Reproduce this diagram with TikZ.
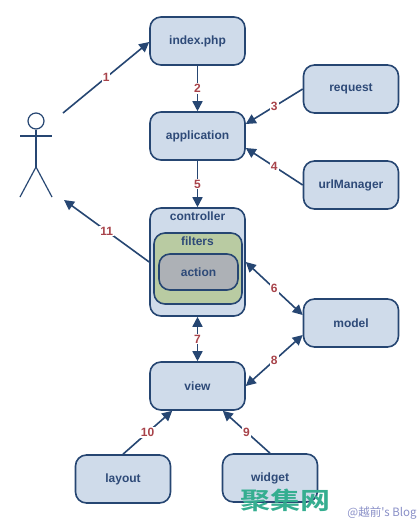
\documentclass[tikz,border=0pt]{standalone}
\usepackage{fontspec}
\setmainfont{Liberation Sans}
\newfontfamily\cjkbold[BoldFont={Noto Sans CJK SC Bold}]{Noto Sans CJK SC}
\newfontfamily\cjkplain{Noto Sans CJK SC}
\usetikzlibrary{arrows.meta,calc}
\definecolor{lineblue}{HTML}{264672}
\definecolor{boxblue}{HTML}{CFDBEA}
\definecolor{boxgreen}{HTML}{B9CBA2}
\definecolor{boxgrey}{HTML}{ADB1B6}
\definecolor{textblue}{HTML}{2E4A78}
\definecolor{labelred}{HTML}{A8434A}
\definecolor{markgreen}{HTML}{35AE90}
\definecolor{markblue}{HTML}{8A90C8}
\tikzset{
  x=1pt,y=-1pt,
  box/.style={draw=lineblue,line width=1.6pt,fill=boxblue,rounded corners=11pt,
    minimum width=95pt,minimum height=48pt,inner sep=0pt,
    font=\fontsize{12}{14}\selectfont\bfseries,text=textblue},
  conn/.style={draw=lineblue,line width=1.6pt},
  to/.style={conn,-{Triangle[length=10pt,width=10pt]}},
  both/.style={conn,{Triangle[length=10pt,width=10pt]}-{Triangle[length=10pt,width=10pt]}},
  num/.style={fill=white,inner sep=1pt,text=labelred,font=\fontsize{12}{14}\selectfont\bfseries},
  stick/.style={draw=lineblue,line width=1.2pt}
}
\begin{document}
\begin{tikzpicture}
\useasboundingbox (0,0) rectangle (420,520);
\fill[white] (0,0) rectangle (420,520);
\node[box] (index) at (197.5,41) {index.php};
\node[box] (app) at (197.5,136) {application};
\node[box] (req) at (351,89) {request};
\node[box] (url) at (351,185) {urlManager};
\node[box,minimum height=108pt] (ctrl) at (197.5,262) {};
\node[box,minimum width=88pt,minimum height=71pt,fill=boxgreen] (filt) at (198,268.5) {};
\node[box,minimum width=79pt,minimum height=36pt,fill=boxgrey] (act) at (198.5,272) {action};
\node[font=\fontsize{12}{14}\selectfont\bfseries,text=textblue] (ctrltxt) at (197.5,216) {controller};
\node[font=\fontsize{12}{14}\selectfont\bfseries,text=textblue] (filttxt) at (197.5,241) {filters};
\node[box] (model) at (351,323) {model};
\node[box] (view) at (197.5,386) {view};
\node[box] (layout) at (123,479) {layout};
\node[box] (widget) at (270,478) {widget};
% actor
\node[circle,stick,minimum size=16pt,inner sep=0pt] (head) at (36,121) {};
\coordinate (hip) at (36,167);
\draw[stick] (head.south) -- (hip);
\draw[stick] (20,136) -- (52,136);
\draw[stick] (20,197) -- (hip) -- (52,197);
\coordinate (actTop) at (63,113);
\coordinate (actBot) at (64,200);
% connectors
\draw[to] (actTop) -- node[num]{1} ($(index.west)+(0,1)$);
\draw[to] (index.south) -- node[num]{2} (app.north);
\draw[to] (req.west) -- node[num]{3} ($(app.east)+(0,-12)$);
\draw[to] (url.west) -- node[num]{4} ($(app.east)+(0,12)$);
\draw[to] (app.south) -- node[num]{5} (ctrl.north);
\draw[both] (ctrl.east) -- node[num]{6} ($(model.west)+(0,-8)$);
\draw[both] (ctrl.south) -- node[num]{7} (view.north);
\draw[both] ($(model.west)+(0,12)$) -- node[num]{8} (view.east);
\draw[to] (widget.north) -- node[num]{9} ($(view.south east)+(-23,0)$);
\draw[to] (layout.north) -- node[num]{10} ($(view.south west)+(23,0)$);
\draw[to] (ctrl.west) -- node[num]{11} (actBot);
% watermarks
\node[font=\cjkbold\fontsize{24}{26}\selectfont\bfseries,text=markgreen,inner sep=0pt,xscale=1.25] (wm) at (285,500) {聚集网};
\node[font=\cjkplain\fontsize{11.5}{13}\selectfont,text=markblue,inner sep=0pt] (blog) at (382,513) {@越前's Blog};
\end{tikzpicture}
\end{document}
